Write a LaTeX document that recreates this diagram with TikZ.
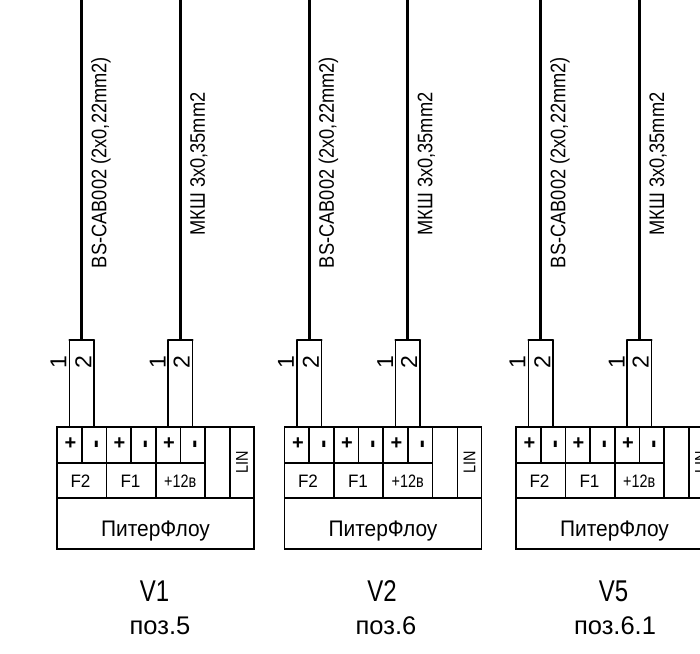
\documentclass[tikz,border=0pt]{standalone}
\usepackage{fontspec}
\usepackage{graphicx}
\setmainfont{Liberation Sans}
\newcommand{\condense}[2]{\scalebox{#1}[1]{#2}}
\tikzset{
  x=1pt,y=-1pt,
  cellbox/.style={draw=black,line width=1.5pt,inner sep=0pt,minimum width=#1,fill=none},
  pinbox/.style={cellbox=24.5pt,minimum height=35.7pt},
  pintext/.style={inner sep=0pt,font=\fontsize{20}{20}\selectfont\bfseries},
  dashtext/.style={inner sep=0pt,rotate=90,font=\fontsize{25}{25}\selectfont\bfseries},
  funcbox/.style={minimum height=35.3pt},
  functext/.style={inner sep=0pt,font=\fontsize{18}{18}\selectfont},
  wireline/.style={line width=1.3pt},
  cableline/.style={line width=3.4pt},
  barline/.style={line width=2.2pt,line cap=round},
  vtext/.style={rotate=90,inner sep=0pt,anchor=center},
  cabletext/.style={vtext,font=\fontsize{21}{21}\selectfont},
  numtext/.style={vtext,font=\fontsize{23}{23}\selectfont},
  nametext/.style={inner sep=0pt,anchor=base,font=\fontsize{22.5}{22}\selectfont},
  capone/.style={inner sep=0pt,anchor=base,font=\fontsize{30}{30}\selectfont},
  captwo/.style={inner sep=0pt,anchor=base,font=\fontsize{25.5}{26}\selectfont}
}
\begin{document}
\begin{tikzpicture}
\useasboundingbox (0,0) rectangle (700,653);
\clip (0,0) rectangle (700,653);
\foreach \dx/\bid/\vname/\pos/\px in {0/a/V1/поз.5/160,227.5/b/V2/поз.6/158.5,459/c/V5/поз.6.1/156}{
\begin{scope}[xshift=\dx pt]
  % terminals
  \node[pinbox] (\bid p1) at (69.4,445) {};
  \node[pinbox] (\bid m1) at (94,445) {};
  \node[pinbox] (\bid p2) at (118.6,445) {};
  \node[pinbox] (\bid m2) at (143.2,445) {};
  \node[pinbox] (\bid p3) at (168,445) {};
  \node[pinbox] (\bid m3) at (192.6,445) {};
  \node[pintext] (\bid tp1) at (70.5,444) {+};
  \node[dashtext] (\bid tm1) at (99,444) {-};
  \node[pintext] (\bid tp2) at (119.5,444) {+};
  \node[dashtext] (\bid tm2) at (148,444) {-};
  \node[pintext] (\bid tp3) at (169,444) {+};
  \node[dashtext] (\bid tm3) at (197.5,444) {-};
  \node[cellbox=49.2pt,funcbox] (\bid f2) at (81.7,480.3) {};
  \node[cellbox=49.2pt,funcbox] (\bid f1) at (131,480.3) {};
  \node[cellbox=49pt,funcbox] (\bid v) at (180.4,480.3) {};
  \node[functext] (\bid tf2) at (80.5,481.3) {\condense{.95}{F2}};
  \node[functext] (\bid tf1) at (130.5,481.3) {\condense{.95}{F1}};
  \node[functext] (\bid tv) at (180.2,481.3) {\condense{.8}{+12в}};
  \node[cellbox=24.8pt,minimum height=71pt] (\bid e) at (217.4,462.5) {};
  \node[cellbox=24.4pt,minimum height=71pt] (\bid lin) at (242,462.5) {};
  \node[vtext,font=\fontsize{17}{17}\selectfont] (\bid lint) at (\bid lin.center) {\condense{.85}{LIN}};
  \node[cellbox=197pt,minimum height=51pt] (\bid name) at (155.5,523.5) {};
  \node[nametext] (\bid tname) at (155.5,536.7) {\condense{.93}{ПитерФлоу}};
  % cables
  \coordinate (\bid ct1) at (81.7,0);
  \coordinate (\bid ct2) at (180.2,0);
  \coordinate (\bid cb1) at (81.7,340);
  \coordinate (\bid cb2) at (180.2,340);
  \coordinate (\bid l1) at (69.4,340);
  \coordinate (\bid r1) at (94,340);
  \coordinate (\bid l2) at (168,340);
  \coordinate (\bid r2) at (192.6,340);
  \draw[wireline] (\bid l1) -- (\bid p1.north);
  \draw[wireline] (\bid r1) -- (\bid m1.north);
  \draw[wireline] (\bid l2) -- (\bid p3.north);
  \draw[wireline] (\bid r2) -- (\bid m3.north);
  \draw[barline] (\bid l1) -- (\bid r1);
  \draw[barline] (\bid l2) -- (\bid r2);
  \draw[cableline] (\bid ct1) -- (\bid cb1);
  \draw[cableline] (\bid ct2) -- (\bid cb2);
  \node[cabletext] (\bid t1) at (101,162.5) {\condense{.87}{BS-CAB002 (2x0,22mm2)}};
  \node[cabletext] (\bid t2) at (199,164) {\condense{.87}{МКШ 3x0,35mm2}};
  \node[numtext] (\bid n1) at (58.5,362) {1};
  \node[numtext] (\bid n2) at (83.3,362) {2};
  \node[numtext] (\bid n3) at (157.7,362) {1};
  \node[numtext] (\bid n4) at (181.7,362) {2};
  \node[capone] (\bid c1) at (154.5,601) {\condense{.8}{\vname}};
  \node[captwo] (\bid c2) at (\px,634) {\pos};
\end{scope}
}
\end{tikzpicture}
\end{document}
